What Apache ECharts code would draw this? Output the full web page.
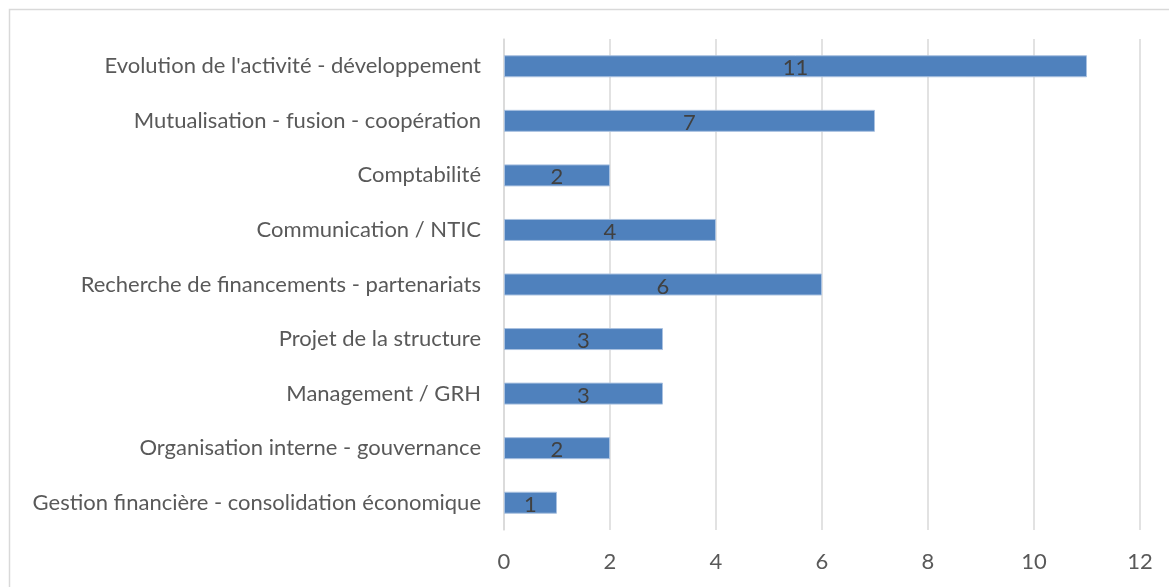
<!DOCTYPE html>
<html><head><meta charset="utf-8">
<script src="https://cdn.jsdelivr.net/npm/echarts@6/dist/echarts.min.js"></script>
<style>html,body{margin:0;padding:0;background:#fff}#c{width:1169px;height:587px}</style>
</head><body><div id="c"></div>
<script>
const categories = [
  "Evolution de l'activité - développement",
  "Mutualisation - fusion - coopération",
  "Comptabilité",
  "Communication / NTIC",
  "Recherche de financements - partenariats",
  "Projet de la structure",
  "Management / GRH",
  "Organisation interne - gouvernance",
  "Gestion financière - consolidation économique"
];
const values = [11, 7, 2, 4, 6, 3, 3, 2, 1];
const xTicks = [0, 2, 4, 6, 8, 10, 12];

const chart = echarts.init(document.getElementById('c'));
const FONT = 'Lato, sans-serif';
chart.setOption({
  animation: false,
  graphic: [{
    type: 'rect', shape: {x: 9.5, y: 9.5, width: 1300, height: 700},
    style: {fill: 'none', stroke: '#d9d9d9', lineWidth: 1.5}, silent: true
  }],
  grid: {left: 504, right: 29, top: 39, bottom: 57, containLabel: false},
  xAxis: {
    type: 'value', min: xTicks[0], max: xTicks[xTicks.length - 1], interval: 2,
    axisLine: {show: false}, axisTick: {show: false},
    splitLine: {show: true, lineStyle: {color: '#d9d9d9', width: 1.5}},
    axisLabel: {color: '#595959', fontSize: 22, fontFamily: FONT, margin: 21}
  },
  yAxis: {
    type: 'category', data: categories, inverse: true,
    axisLine: {show: true, lineStyle: {color: '#d9d9d9', width: 1.5}},
    axisTick: {show: false},
    axisLabel: {color: '#595959', fontSize: 22, fontFamily: FONT, margin: 23}
  },
  series: [{
    type: 'bar', data: values, barWidth: 22,
    itemStyle: {color: '#4f81bd', borderColor: '#a9c1e0', borderWidth: 1},
    label: {show: true, position: 'inside', color: '#404040', fontSize: 22, fontFamily: FONT, offset: [0, 2]}
  }]
});
</script></body></html>
